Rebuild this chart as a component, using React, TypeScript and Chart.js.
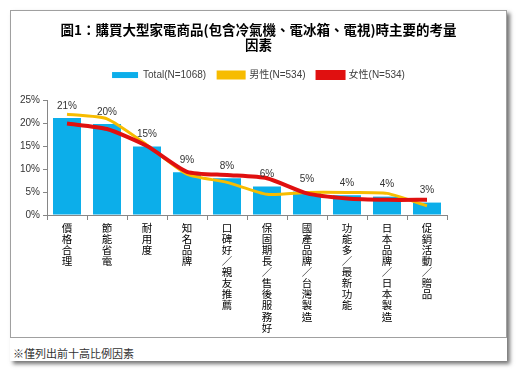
import React, { useEffect, useRef } from "react";
import { Chart, registerables } from "chart.js";

Chart.register(...registerables);

const titleLines = ["圖1：購買大型家電商品(包含冷氣機、電冰箱、電視)時主要的考量", "因素"];
const categories = [
  "價格合理",
  "節能省電",
  "耐用度",
  "知名品牌",
  "口碑好／親友推薦",
  "保固期長／售後服務好",
  "國產品牌／台灣製造",
  "功能多／最新功能",
  "日本品牌／日本製造",
  "促銷活動／贈品",
];
const totalValues = [21.1, 19.8, 14.9, 9.3, 8.0, 6.2, 5.1, 4.3, 4.0, 2.7];
const maleValues = [21.9, 20.9, 15.2, 8.9, 7.1, 4.5, 4.9, 4.9, 4.7, 2.0];
const femaleValues = [19.9, 18.7, 15.0, 9.4, 8.7, 8.0, 4.7, 3.6, 3.3, 3.3];
const seriesNames = ["Total(N=1068)", "男性(N=534)", "女性(N=534)"];
const yTicks = [0, 5, 10, 15, 20, 25];
const footnote = "※僅列出前十高比例因素";

const LATIN = '"Liberation Sans", "Noto Sans CJK TC", sans-serif';
const CJK = '"Noto Sans CJK TC", "Liberation Sans", sans-serif';

const barLabelPlugin = {
  id: "barLabels",
  afterDatasetsDraw(chart: any) {
    const meta = chart.getDatasetMeta(0);
    const ctx = chart.ctx;
    ctx.save();
    ctx.font = "10px " + LATIN;
    ctx.fillStyle = "#333";
    ctx.textAlign = "center";
    ctx.textBaseline = "middle";
    meta.data.forEach((el: any, i: number) => {
      ctx.fillText(Math.round(totalValues[i]) + "%", el.x, el.y - 12);
    });
    ctx.restore();
  },
};

const legendGapPlugin = {
  id: "legendGap",
  beforeInit(chart: any) {
    const legend = chart.legend;
    if (!legend) return;
    const orig = legend.fit;
    legend.fit = function () {
      orig.call(this);
      this.height += 10;
    };
  },
};

export default function App() {
  const ref = useRef<HTMLCanvasElement | null>(null);
  useEffect(() => {
    if (!ref.current) return;
    const chart = new Chart(ref.current, {
      type: "bar",
      data: {
        labels: categories.map((c) => c.split("")),
        datasets: [
          {
            type: "bar",
            label: seriesNames[0],
            data: totalValues,
            backgroundColor: "#0CAEEA",
            borderWidth: 0,
            categoryPercentage: 1,
            barPercentage: 0.7,
            order: 3,
          },
          {
            type: "line",
            label: seriesNames[1],
            data: maleValues,
            borderColor: "#F7BC00",
            backgroundColor: "#F7BC00",
            borderWidth: 3,
            pointRadius: 0,
            tension: 0.2,
            order: 2,
          },
          {
            type: "line",
            label: seriesNames[2],
            data: femaleValues,
            borderColor: "#E01010",
            backgroundColor: "#E01010",
            borderWidth: 4,
            pointRadius: 0,
            tension: 0.2,
            order: 1,
          },
        ] as any,
      },
      options: {
        responsive: false,
        animation: false,
        devicePixelRatio: 1,
        layout: { padding: { left: 0, right: 0, top: 4, bottom: 0 } },
        plugins: {
          tooltip: { enabled: false },
          title: {
            display: true,
            text: titleLines,
            color: "#000",
            font: { size: 13.5, weight: "bold", family: CJK, lineHeight: 1.15 },
            padding: { top: 7, bottom: 5 },
          },
          legend: {
            display: true,
            labels: {
              boxWidth: 26,
              boxHeight: 6,
              padding: 12,
              color: "#404040",
              font: { size: 10, family: LATIN },
              sort: (a: any, b: any) => a.datasetIndex - b.datasetIndex,
            },
          },
        },
        scales: {
          x: {
            offset: true,
            grid: {
              display: true,
              drawOnChartArea: false,
              drawTicks: true,
              tickLength: 5,
              color: "#868686",
              offset: true,
            },
            border: { color: "#868686" },
            ticks: {
              autoSkip: false,
              maxRotation: 0,
              minRotation: 0,
              padding: 2,
              color: "#000",
              font: { size: 10.5, family: CJK, lineHeight: 1.06 },
            },
            afterFit: (s: any) => {
              s.height = 122;
            },
          },
          y: {
            min: 0,
            max: 25,
            afterBuildTicks: (s: any) => {
              s.ticks = yTicks.map((v) => ({ value: v }));
            },
            grid: {
              display: true,
              drawOnChartArea: false,
              drawTicks: true,
              tickLength: 4,
              color: "#868686",
            },
            border: { color: "#868686" },
            ticks: {
              padding: 3,
              color: "#333",
              font: { size: 10, family: LATIN },
              callback: (v: any) => v + "%",
            },
            afterFit: (s: any) => {
              s.width = 36;
            },
          },
          yRight: {
            position: "right",
            display: true,
            min: 0,
            max: 25,
            grid: { display: false, drawTicks: false },
            border: { display: false },
            ticks: { display: false },
            afterFit: (s: any) => {
              s.width = 59;
            },
          },
        },
      },
      plugins: [barLabelPlugin, legendGapPlugin],
    } as any);
    return () => chart.destroy();
  }, []);

  return (
    <div style={{ position: "absolute", left: 0, top: 0, width: 519, height: 373, background: "#fff" }}>
      <div
        style={{
          position: "absolute",
          left: 10,
          top: 10,
          width: 497,
          height: 351,
          background: "#fff",
          boxShadow: "3px 3px 4px rgba(0,0,0,0.55)",
        }}
      />
      <div
        style={{
          position: "absolute",
          left: 10,
          top: 10,
          width: 495,
          height: 326,
          border: "1px solid #a0a0a0",
          background: "#fff",
        }}
      >
        <canvas ref={ref} width={495} height={326} style={{ display: "block", width: 495, height: 326 }} />
      </div>
      <div
        style={{
          position: "absolute",
          left: 13,
          top: 346,
          fontFamily: CJK,
          fontSize: 11,
          lineHeight: "14px",
          color: "#333",
          whiteSpace: "nowrap",
        }}
      >
        {footnote}
      </div>
    </div>
  );
}
